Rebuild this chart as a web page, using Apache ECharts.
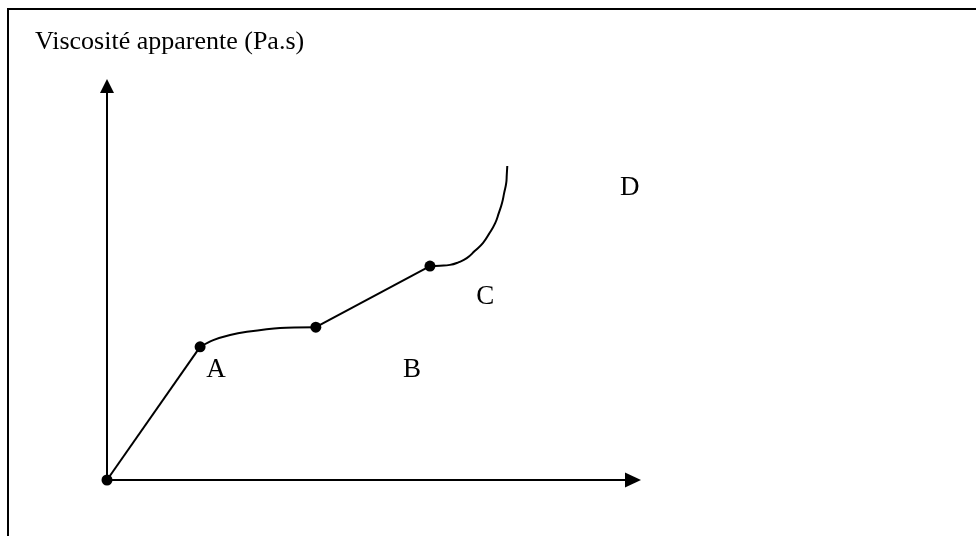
<!DOCTYPE html>
<html>
<head>
<meta charset="utf-8">
<script src="https://cdn.jsdelivr.net/npm/echarts@6/dist/echarts.min.js"></script>
<style>
html,body{margin:0;padding:0;background:#fff;}
#chart{width:976px;height:536px;}
</style>
</head>
<body>
<div id="chart"></div>
<script>
// Axis title
var yAxisTitle = 'Viscosité apparente (Pa.s)';

// Axis extents (arbitrary units)
var xMax = 10;
var yMax = 10;

// Curve pieces (arbitrary units)
var segOA = [[0, 0], [1.77, 3.38]];
var curveA = [[1.77, 3.38], [2.02, 3.55], [2.34, 3.68], [2.66, 3.76], [3.29, 3.86], [3.97, 3.88]];
var segB = [[3.97, 3.88], [6.14, 5.43]];
var curveC = [[6.14, 5.43], [6.33, 5.44], [6.52, 5.46], [6.69, 5.53], [6.84, 5.63], [6.99, 5.81],
  [7.15, 6.02], [7.26, 6.24], [7.38, 6.52], [7.45, 6.78], [7.51, 7.03], [7.55, 7.28],
  [7.59, 7.54], [7.60, 7.74], [7.61, 7.97]];

// Marked points
var markers = [[0, 0], [1.77, 3.38], [3.97, 3.88], [6.14, 5.43]];

// Zone labels
var zoneNames = ['A', 'B', 'C', 'D'];
var zonePos = [[2.07, 2.79], [5.80, 2.79], [7.19, 4.64], [9.94, 7.41]];

var FONT = 'Liberation Serif';
var chart = echarts.init(document.getElementById('chart'));

function lineSeries(data, smooth) {
  return {
    type: 'line', data: data, smooth: smooth, symbol: 'none',
    lineStyle: {color: '#000', width: 2, opacity: 1}, silent: true, z: 2
  };
}

chart.setOption({
  animation: false,
  backgroundColor: '#fff',
  title: {
    text: yAxisTitle, left: 30, top: 24,
    textStyle: {fontFamily: FONT, fontSize: 26, fontWeight: 'normal', color: '#000'}
  },
  graphic: [
    {type: 'line', shape: {x1: 7, y1: 9, x2: 976, y2: 9}, style: {stroke: '#000', lineWidth: 2}},
    {type: 'line', shape: {x1: 8, y1: 8, x2: 8, y2: 536}, style: {stroke: '#000', lineWidth: 2}}
  ],
  grid: {left: 107, top: 86, right: 343, bottom: 56},
  xAxis: {
    type: 'value', min: 0, max: xMax,
    axisLine: {show: true, onZero: false, symbol: ['none', 'triangle'], symbolSize: [15, 16],
      lineStyle: {color: '#000', width: 2}},
    axisTick: {show: false}, axisLabel: {show: false}, splitLine: {show: false}
  },
  yAxis: {
    type: 'value', min: 0, max: yMax,
    axisLine: {show: true, onZero: false, symbol: ['none', 'triangle'], symbolSize: [14, 14],
      lineStyle: {color: '#000', width: 2}},
    axisTick: {show: false}, axisLabel: {show: false}, splitLine: {show: false}
  },
  series: [
    lineSeries(segOA, false),
    lineSeries(curveA, 0.3),
    lineSeries(segB, false),
    lineSeries(curveC, true),
    {
      type: 'scatter', data: markers, symbol: 'circle', symbolSize: 11,
      itemStyle: {color: '#000', opacity: 1}, z: 3, silent: true
    },
    {
      type: 'scatter', symbolSize: 0, silent: true,
      itemStyle: {opacity: 1},
      data: zoneNames.map(function (n, i) { return {name: n, value: zonePos[i]}; }),
      label: {show: true, position: 'inside', formatter: '{b}', opacity: 1,
        fontFamily: FONT, fontSize: 27, color: '#000'}
    }
  ]
});
</script>
</body>
</html>
